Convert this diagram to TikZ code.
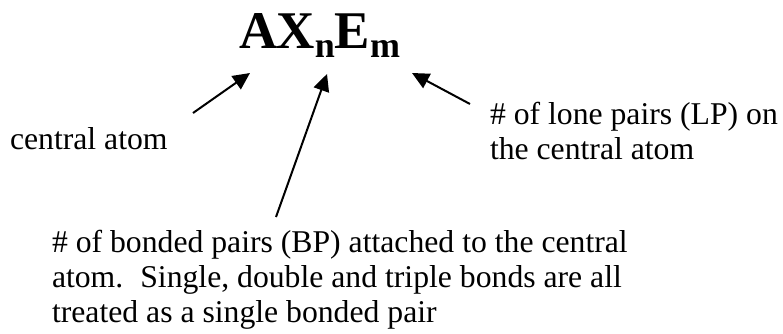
\documentclass[tikz,border=0pt]{standalone}
\usepackage{fontspec}
\setmainfont{Liberation Serif}
\usetikzlibrary{arrows.meta}
\newcommand{\lines}[1]{\begin{tabular}[t]{@{}l@{}}#1\end{tabular}}
\begin{document}
\begin{tikzpicture}[x=1pt,y=-1pt,
  lbl/.style={inner sep=0pt,outer sep=0pt,anchor=base west,
    font=\fontsize{31.7}{35}\selectfont},
  ptr/.style={line width=2pt,-{Triangle[length=17pt,width=16pt]}}]
\useasboundingbox (0,0) rectangle (783,333);
\node[inner sep=0pt,anchor=base west] (f) at (239,48)
  {\fontsize{53}{60}\selectfont\bfseries A\hspace{-1pt}X\raisebox{-9pt}{\fontsize{36}{40}\selectfont n}E\raisebox{-9pt}{\fontsize{36}{40}\selectfont m}};
\coordinate (tA) at (250,73);
\coordinate (tX) at (327,74);
\coordinate (tE) at (412,73);
\node[lbl] (ca) at (10,149) {central atom};
\node[lbl] (lp) at (490,124) {\lines{\# of lone pairs (LP) on\\the central atom}};
\node[lbl] (bp) at (52,252) {\lines{\# of bonded pairs (BP) attached to the central\\atom.\hspace{17pt}Single, double and triple bonds are all\\treated as a single bonded pair}};
\coordinate (sA) at (193,113);
\coordinate (sX) at (276,217);
\coordinate (sE) at (470,104);
\draw[ptr] (sA) -- (tA);
\draw[ptr] (sX) -- (tX);
\draw[ptr] (sE) -- (tE);
\end{tikzpicture}
\end{document}
